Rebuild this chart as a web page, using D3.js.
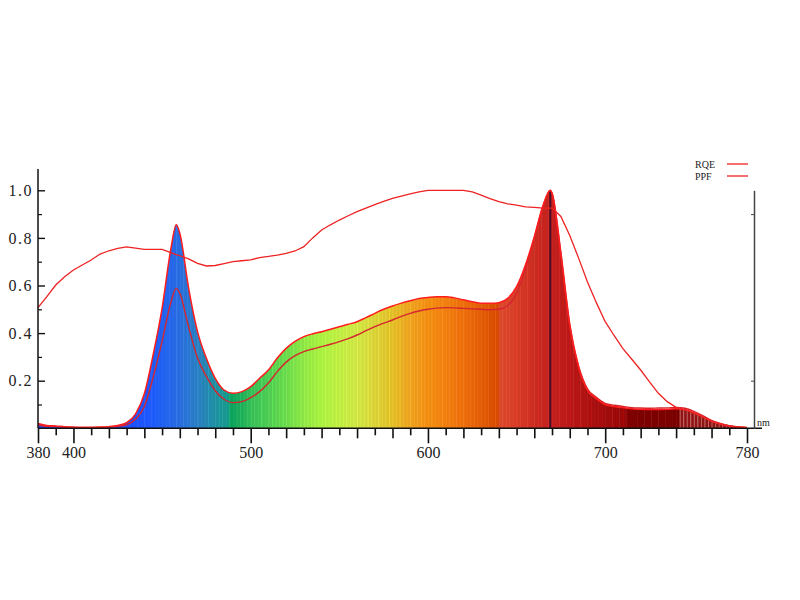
<!DOCTYPE html>
<html>
<head>
<meta charset="utf-8">
<script src="https://cdn.jsdelivr.net/npm/d3@7"></script>
<style>
  body { margin: 0; background: #fff; }
  svg { display: block; }
  .tick text { font-family: "Liberation Serif", "DejaVu Serif", serif; font-size: 16px; fill: #222; }
</style>
</head>
<body>
<svg width="800" height="600"></svg>
<script>
// wavelengths (nm), with extra points at the two peaks
const wavelengths = [380,385,390,395,400,405,410,415,420,425,430,435,440,445,450,455,458,
  460,465,470,475,480,485,490,495,500,505,510,515,520,525,530,535,540,545,550,555,560,565,570,
  575,580,585,590,595,600,605,610,615,620,625,630,635,640,645,650,655,660,665,669,
  670,675,680,685,690,695,700,705,710,715,720,725,730,735,740,745,750,755,760,765,770,775,780]

// relative spectrum (filled area)
const spectrum = [0.02,0.012,0.01,0.007,0.005,0.004,0.004,0.005,0.007,0.012,0.024,0.06,0.145,0.31,0.504,0.756,0.855,
  0.82,0.588,0.406,0.294,0.21,0.161,0.147,0.154,0.175,0.21,0.245,0.295,0.336,0.365,0.385,0.397,0.406,0.416,0.427,0.437,0.448,0.465,0.483,
  0.5,0.514,0.526,0.536,0.545,0.55,0.553,0.553,0.548,0.54,0.532,0.525,0.525,0.528,0.546,0.595,0.686,0.805,0.938,1.0,
  0.987,0.73,0.43,0.255,0.16,0.125,0.1,0.092,0.087,0.082,0.08,0.079,0.079,0.08,0.082,0.078,0.065,0.048,0.03,0.018,0.01,0.005,0.003]

// PPF curve (inner line)
const ppf = [0.015,0.008,0.007,0.005,0.003,0.003,0.003,0.004,0.005,0.008,0.015,0.038,0.092,0.215,0.365,0.53,0.588,
  0.567,0.425,0.295,0.218,0.158,0.122,0.108,0.112,0.129,0.154,0.19,0.238,0.278,0.305,0.322,0.333,0.343,0.353,0.364,0.377,0.392,0.41,0.427,
  0.442,0.455,0.47,0.483,0.493,0.5,0.505,0.507,0.506,0.504,0.502,0.5,0.498,0.5,0.516,0.567,0.67,0.8,0.935,1.0,
  0.99,0.74,0.44,0.262,0.166,0.13,0.105,0.097,0.092,0.087,0.085,0.084,0.085,0.086,0.088,0.084,0.071,0.053,0.033,0.02,0.011,0.006,0.003]

// RQE curve (upper line)
const rqe = [0.507,0.553,0.602,0.637,0.665,0.686,0.707,0.732,0.746,0.756,0.762,0.757,0.752,0.752,0.752,0.738,0.73,
  0.725,0.712,0.693,0.682,0.684,0.692,0.7,0.704,0.708,0.717,0.722,0.728,0.735,0.745,0.763,0.8,0.833,0.855,0.875,0.893,0.91,0.925,0.94,
  0.953,0.966,0.976,0.985,0.993,1.0,1.0,1.0,1.0,1.0,0.993,0.98,0.965,0.952,0.943,0.938,0.93,0.928,0.925,0.925,
  0.925,0.89,0.81,0.715,0.615,0.528,0.448,0.39,0.335,0.29,0.245,0.195,0.147,0.112,0.088,0.079,0.065,0.048,0.03,0.018,0.01,0.005,0.003]

const peakWavelength = 669

const xTickValues = d3.range(380, 781, 10)
const xLabels = [380, 400, 500, 600, 700, 780]
const yMajor = [0.2, 0.4, 0.6, 0.8, 1.0]
const yMinor = [0.1, 0.3, 0.5, 0.7, 0.9]
const rightTicks = [0.2, 0.9]

const legendNames = ["RQE", "PPF"]

// colour of the band under each wavelength
const bandStops = [380,430,440,450,460,470,480,487,488,495,500,510,520,530,540,550,560,570,580,590,
  600,610,620,630,639,640,650,660,670,680,690,700,712,713,741,742,780]
const bandColors = ["#2040ff","#1a4cff","#1e55ff","#2060f0","#2a6cdc","#2a7ec0","#1f8fa0","#16998a","#0a9f5e","#20ad5a",
  "#35bb58","#4fcb52","#6ad84c","#8ee444","#a8f040","#bdec42","#cde444","#d8d038","#e0bc28","#eca020",
  "#f08c12","#f07e10","#ea6c0c","#e05c08","#d44a02","#d84a2c","#d43c26","#c82c20","#c0201e","#b81818","#ac1212","#a00c0c",
  "#960808","#7e0000","#7a0000","#921414","#8a1010"]

const svg = d3.select("svg")

const x = d3.scaleLinear().domain([380, 780]).range([38, 747])
const y = d3.scaleLinear().domain([0, 1]).range([428.3, 190.3])
const color = d3.scaleLinear().domain(bandStops).range(bandColors)

const rows = wavelengths.map((w, i) => ({w: w, s: spectrum[i], p: ppf[i], r: rqe[i]}))

const area = d3.area()
  .x(d => x(d.w))
  .y0(y(0))
  .y1(d => y(d.s))
  .curve(d3.curveMonotoneX)

const lineOf = key => d3.line()
  .x(d => x(d.w))
  .y(d => y(d[key]))
  .curve(d3.curveMonotoneX)

svg.append("clipPath")
  .attr("id", "specClip")
  .append("path")
  .attr("d", area(rows))

// coloured stripes under the spectrum
const band = svg.append("g").attr("clip-path", "url(#specClip)")
const stripes = d3.range(380, 780, 2)

band.selectAll("rect")
  .data(stripes)
  .enter()
  .append("rect")
  .attr("x", d => x(d))
  .attr("width", x(382) - x(380) + 0.4)
  .attr("y", y(1.02))
  .attr("height", y(0) - y(1.02))
  .style("fill", d => color(d + 1))

band.selectAll("line")
  .data(stripes.filter(d => d < 713 || d > 741))
  .enter()
  .append("line")
  .attr("x1", d => x(d) + 0.5)
  .attr("x2", d => x(d) + 0.5)
  .attr("y1", y(1.02))
  .attr("y2", y(0))
  .style("stroke", (d, i) => d > 741 ? "#f0c0c0" : d3.color(color(d)).brighter(i % 3 == 0 ? 0.6 : 0.3))
  .style("stroke-opacity", d => d > 741 ? 0.55 : 0.55)
  .style("stroke-width", 0.9)

// dark line at the red peak
band.append("line")
  .attr("x1", x(peakWavelength))
  .attr("x2", x(peakWavelength))
  .attr("y1", y(0))
  .attr("y2", y(1))
  .style("stroke", "#4a0c26")
  .style("stroke-width", 2)

// curves
svg.append("path")
  .datum(rows)
  .attr("d", lineOf("p"))
  .style("fill", "none")
  .style("stroke", "#d4262e")
  .style("stroke-width", 1.4)

svg.append("path")
  .datum(rows)
  .attr("d", lineOf("s"))
  .style("fill", "none")
  .style("stroke", "#ff1c1c")
  .style("stroke-width", 1.5)

svg.append("path")
  .datum(rows)
  .attr("d", d3.line().x(d => x(d.w)).y(d => y(d.r)))
  .style("fill", "none")
  .style("stroke", "#ee2222")
  .style("stroke-width", 1.3)

// x axis
const xAxis = svg.append("g")
  .attr("transform", `translate(0, ${y(0)})`)
  .call(d3.axisBottom(x)
    .tickValues(xTickValues)
    .tickSizeOuter(0)
    .tickFormat(d => xLabels.includes(d) ? d : ""))

xAxis.select(".domain").remove()
xAxis.selectAll(".tick line")
  .attr("y2", d => xLabels.includes(d) ? 15 : (d % 20 == 0 ? 10 : 7))
  .style("stroke", "#111")
  .style("stroke-width", 1.6)
xAxis.selectAll(".tick text").attr("y", 18)

svg.append("line")
  .attr("x1", x(380))
  .attr("x2", 762)
  .attr("y1", y(0))
  .attr("y2", y(0))
  .style("stroke", "#111")
  .style("stroke-width", 1.5)

// y axis
svg.append("line")
  .attr("x1", x(380))
  .attr("x2", x(380))
  .attr("y1", y(1.09))
  .attr("y2", y(0))
  .style("stroke", "#111")
  .style("stroke-width", 1.5)

const yAxis = svg.append("g")
  .attr("transform", `translate(${x(380)}, 0)`)
  .call(d3.axisLeft(y)
    .tickValues(yMajor)
    .tickSize(-7)
    .tickPadding(5)
    .tickFormat(d3.format(".1f")))
yAxis.select(".domain").remove()
yAxis.selectAll(".tick text").style("letter-spacing", "1.5px")
yAxis.selectAll(".tick line").style("stroke", "#111").style("stroke-width", 1.4)

const yMinorAxis = svg.append("g")
  .attr("transform", `translate(${x(380)}, 0)`)
  .call(d3.axisLeft(y).tickValues(yMinor).tickSize(-4).tickFormat(""))
yMinorAxis.select(".domain").remove()
yMinorAxis.selectAll(".tick line").style("stroke", "#111").style("stroke-width", 1.2)

// right hand axis
const rAxis = svg.append("g")
  .attr("transform", "translate(754, 0)")
  .call(d3.axisLeft(y).tickValues(rightTicks).tickSize(3).tickSizeOuter(0).tickFormat(""))
rAxis.select(".domain").style("stroke", "#444").style("stroke-width", 1.5)
rAxis.selectAll(".tick line").style("stroke", "#444")

svg.append("text")
  .attr("x", 757)
  .attr("y", 426)
  .text("nm")
  .style("font-family", "Liberation Serif, serif")
  .style("font-size", "10px")
  .style("fill", "#222")

// legend
const legend = svg.append("g")
  .selectAll("g")
  .data(legendNames)
  .enter()
  .append("g")
  .attr("transform", (d, i) => `translate(695, ${168 + i * 12})`)

legend.append("text")
  .text(d => d)
  .style("font-family", "Liberation Serif, serif")
  .style("font-size", "10px")
  .style("fill", "#222")

legend.append("line")
  .attr("x1", 32)
  .attr("x2", 53)
  .attr("y1", -4)
  .attr("y2", -4)
  .style("stroke", "#ee2222")
  .style("stroke-width", 1.3)
</script>
</body>
</html>
